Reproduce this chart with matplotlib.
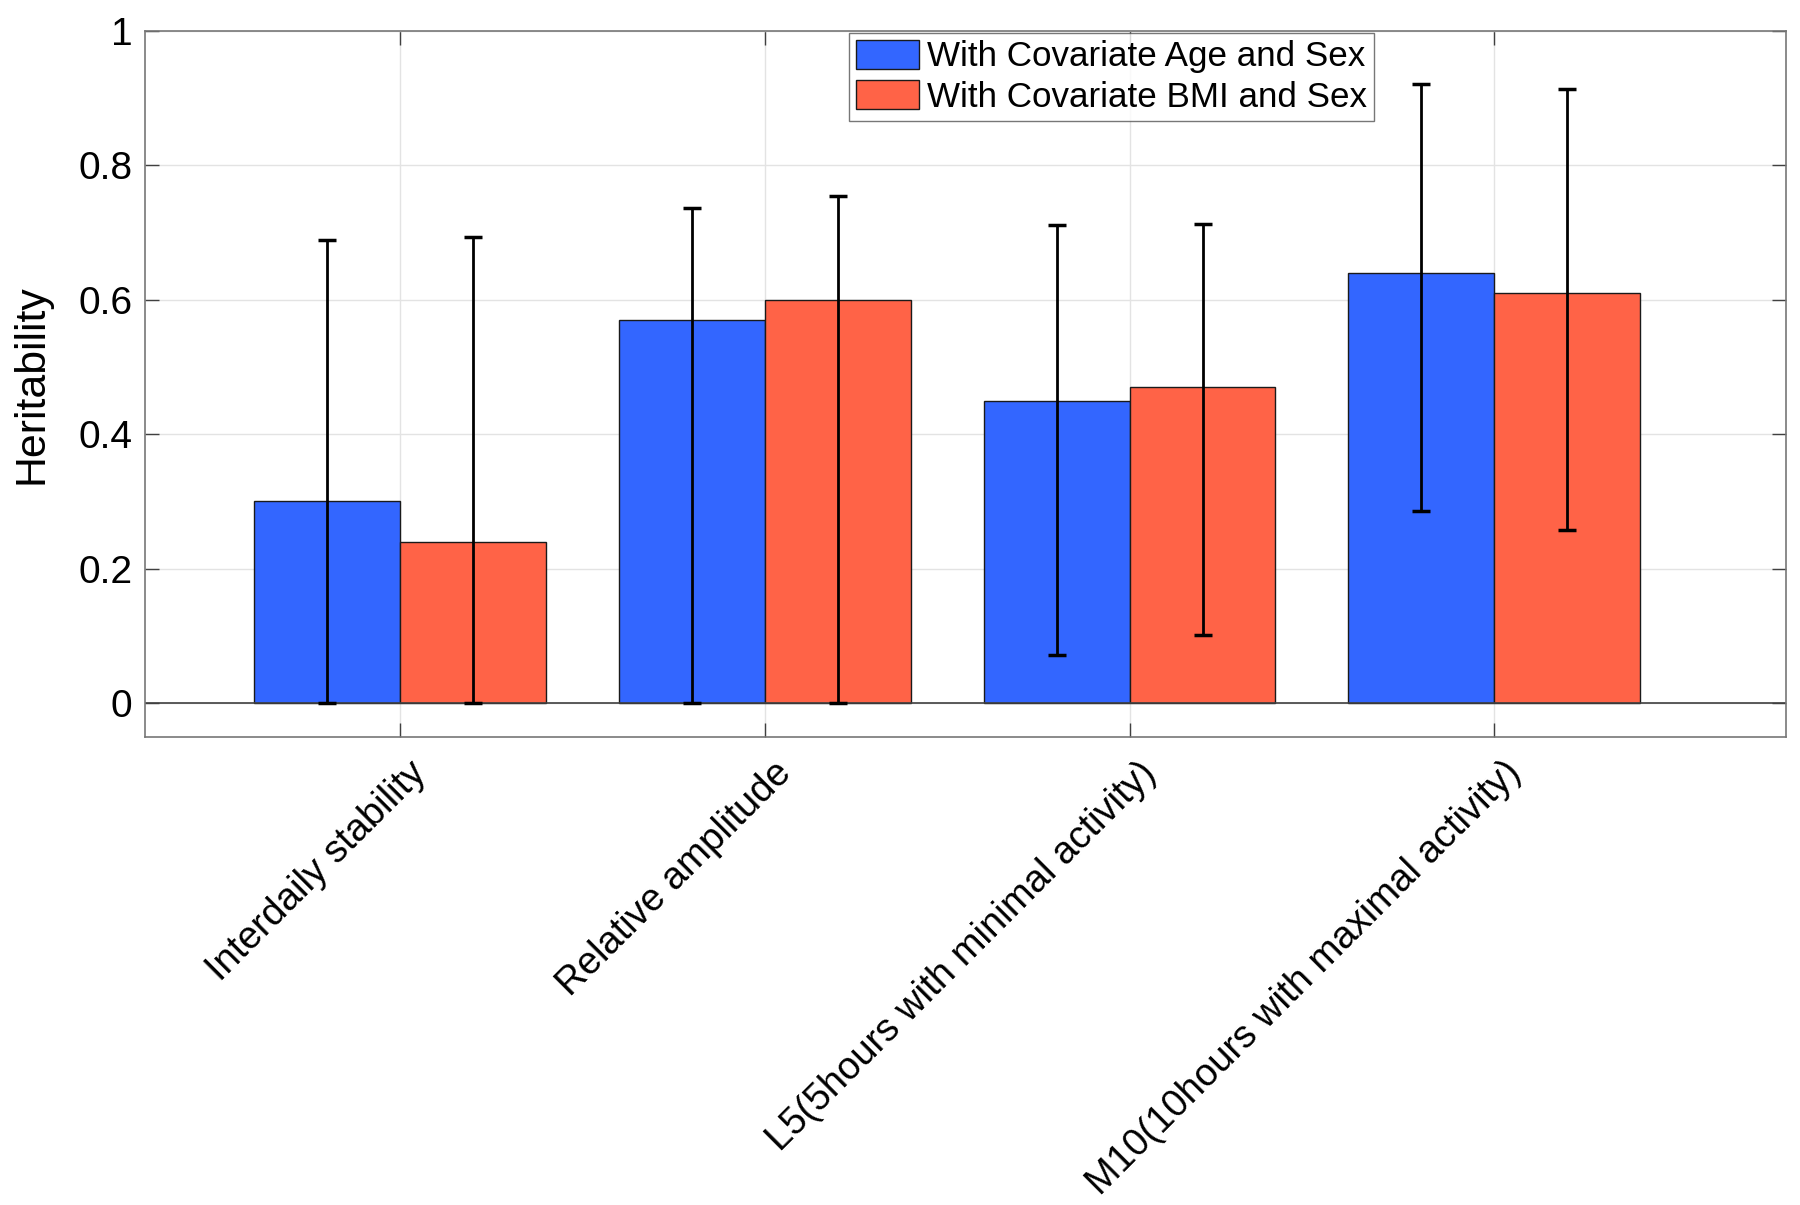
import numpy as np
import matplotlib.pyplot as plt
import matplotlib.transforms as mtransforms
from matplotlib.patches import Patch

plt.rcParams["font.family"] = ["Liberation Sans", "DejaVu Sans"]

# data
categories = ["Interdaily stability", "Relative amplitude",
              "L5(5hours with minimal activity)", "M10(10hours with maximal activity)"]
series_names = ["With Covariate Age and Sex", "With Covariate BMI and Sex"]
h2_age = [0.30, 0.57, 0.45, 0.64]
h2_bmi = [0.24, 0.60, 0.47, 0.61]
lo_age = [0.0, 0.0, 0.072, 0.286]
hi_age = [0.689, 0.737, 0.711, 0.921]
lo_bmi = [0.0, 0.0, 0.102, 0.258]
hi_bmi = [0.694, 0.754, 0.713, 0.913]

BLUE = "#3366FF"
RED = "#FF6347"

fig = plt.figure(figsize=(18, 12.05), dpi=100)
ax = fig.add_axes([0.0804, 0.3886, 0.9119, 0.5857])

x = np.arange(1, len(categories) + 1)
w = 0.4
for vals, lo, hi, off, col in [(h2_age, lo_age, hi_age, -w / 2, BLUE),
                               (h2_bmi, lo_bmi, hi_bmi, w / 2, RED)]:
    vals = np.array(vals)
    ax.bar(x + off, vals, width=w, color=col, edgecolor="#1a1a1a", linewidth=1.0, zorder=2)
    yerr = np.vstack([vals - np.array(lo), np.array(hi) - vals])
    ax.errorbar(x + off, vals, yerr=yerr, fmt="none", ecolor="black",
                elinewidth=2.0, capsize=6.5, capthick=2.5, zorder=3)

ax.axhline(0, color="#404040", linewidth=1.2, zorder=2.5)

ax.set_xlim(0.3, 4.8)
ax.set_ylim(-0.05, 1)
ax.set_yticks([0, 0.2, 0.4, 0.6, 0.8, 1])
ax.set_yticklabels(["0", "0.2", "0.4", "0.6", "0.8", "1"])
ax.set_xticks(x)
ax.set_xticklabels(categories, rotation=45, ha="right", va="top", rotation_mode="anchor")
ax.grid(True, color="#e3e3e3", linewidth=1.0, zorder=0)
ax.set_axisbelow(True)
ax.tick_params(axis="both", direction="in", length=10, width=1.0, color="#404040",
               labelsize=28, top=True, right=True, pad=9)
ax.tick_params(axis="x", pad=13, labelsize=27.5)
# nudge rotated labels to the right a little
shift = mtransforms.ScaledTranslation(8 / 100, 0, fig.dpi_scale_trans)
for lbl in ax.get_xticklabels():
    lbl.set_transform(lbl.get_transform() + shift)
for s in ax.spines.values():
    s.set_color("#777777")
    s.set_linewidth(1.2)

ax.set_ylabel("Heritability", fontsize=30.8)
ax.yaxis.set_label_coords(-0.057, 0.5)

handles = [Patch(facecolor=BLUE, edgecolor="#1a1a1a"), Patch(facecolor=RED, edgecolor="#1a1a1a")]
leg = ax.legend(handles, series_names, loc="upper center", bbox_to_anchor=(0.589, 1.0),
                fontsize=25.2, frameon=True, fancybox=False, edgecolor="#555555",
                handlelength=1.8, handleheight=0.9, handletextpad=0.23,
                borderpad=0.2, labelspacing=0.2, borderaxespad=0.05)
leg.get_frame().set_linewidth(1.0)

fig.savefig("out.png", dpi=100)
